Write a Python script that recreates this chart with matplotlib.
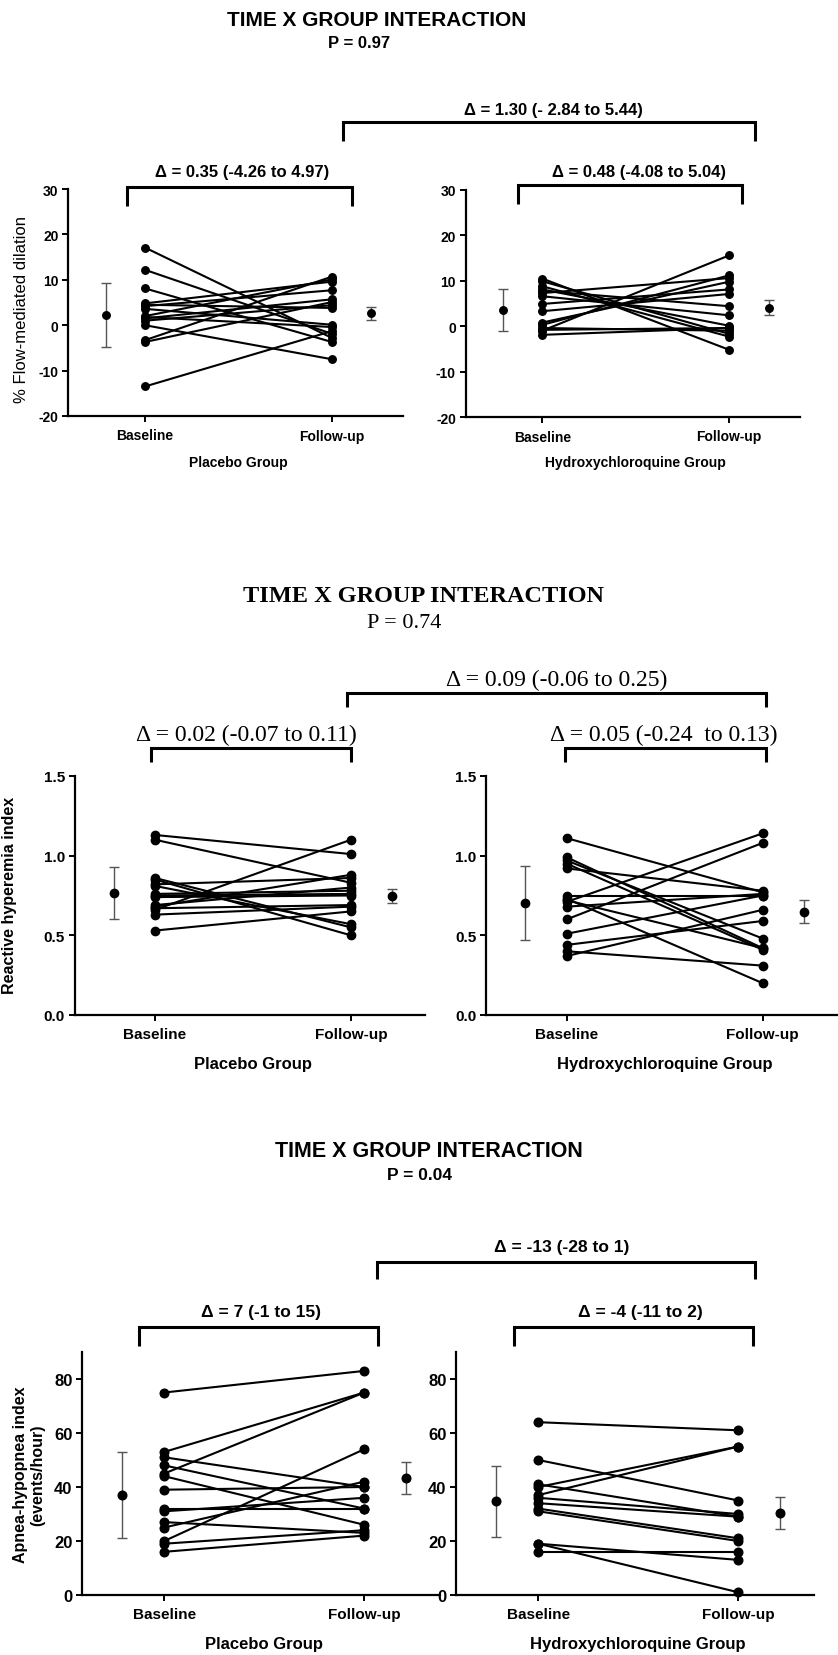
import matplotlib
matplotlib.use("Agg")
import matplotlib.pyplot as plt
from matplotlib.lines import Line2D
from matplotlib.transforms import blended_transform_factory

# ---------------- data ----------------
time_labels = ["Baseline", "Follow-up"]
group_labels = ["Placebo Group", "Hydroxychloroquine Group"]

# Flow-mediated dilation (%)
fmd_placebo_base = [17.1, 12.2, 8.1, 4.8, 4.2, 3.6, 2.0, 1.5, 1.0, 0.0, -3.3, -3.7, -13.5, 4.5, 1.8]
fmd_placebo_fu = [-2.8, -1.9, -3.7, 9.6, 7.7, 0.1, 10.1, 5.7, 4.4, -7.5, 10.7, 5.1, -1.3, 3.8, -0.4]
fmd_hcq_base = [10.5, 9.9, 8.8, 8.1, 7.8, 7.3, 6.6, 4.9, 3.3, 0.8, 0.3, -0.4, -0.8, -1.0, -1.9]
fmd_hcq_fu = [-5.2, -1.7, -2.3, 0.1, 4.4, 10.6, 2.4, 8.1, 7.1, 9.8, 11.2, -1.0, -0.4, 15.6, -0.4]
fmd_placebo_mean = [2.2, 2.7]
fmd_placebo_lo = [-4.8, 1.2]
fmd_placebo_hi = [9.4, 4.1]
fmd_hcq_mean = [3.6, 4.1]
fmd_hcq_lo = [-1.0, 2.5]
fmd_hcq_hi = [8.1, 5.7]

# Reactive hyperemia index
rhi_placebo_base = [1.13, 1.10, 0.86, 0.85, 0.82, 0.81, 0.76, 0.75, 0.69, 0.67, 0.66, 0.63, 0.53, 0.74, 0.68]
rhi_placebo_fu = [1.01, 0.83, 0.55, 0.50, 0.86, 0.57, 0.78, 0.76, 0.80, 0.69, 1.10, 0.68, 0.65, 0.75, 0.88]
rhi_hcq_base = [1.11, 0.99, 0.97, 0.95, 0.92, 0.75, 0.73, 0.71, 0.68, 0.60, 0.51, 0.44, 0.40, 0.37, 0.72]
rhi_hcq_fu = [0.77, 0.42, 0.48, 0.41, 0.78, 0.75, 0.20, 1.14, 0.76, 1.08, 0.75, 0.59, 0.31, 0.66, 0.42]
rhi_placebo_mean = [0.767, 0.746]
rhi_placebo_lo = [0.603, 0.704]
rhi_placebo_hi = [0.932, 0.792]
rhi_hcq_mean = [0.704, 0.649]
rhi_hcq_lo = [0.473, 0.576]
rhi_hcq_hi = [0.934, 0.721]

# Apnea-hypopnea index (events/hour)
ahi_placebo_base = [75, 53, 51, 48, 45, 44, 39, 32, 31, 27, 25, 20, 19, 16]
ahi_placebo_fu = [83, 75, 40, 32, 75, 26, 40, 32, 36, 23, 42, 54, 24, 22]
ahi_hcq_base = [64, 50, 41, 40, 37, 36, 34, 32, 31, 19, 19, 16]
ahi_hcq_fu = [61, 35, 29, 55, 55, 30, 29, 21, 20, 13, 1, 16]
ahi_placebo_mean = [37.0, 43.5]
ahi_placebo_lo = [21.1, 37.4]
ahi_placebo_hi = [52.8, 49.1]
ahi_hcq_mean = [34.7, 30.4]
ahi_hcq_lo = [21.4, 24.4]
ahi_hcq_hi = [47.7, 36.2]

titles = ["TIME X GROUP INTERACTION"] * 3
p_texts = ["P = 0.97", "P = 0.74", "P = 0.04"]
fmd_deltas = ["Δ = 1.30 (- 2.84 to 5.44)", "Δ = 0.35 (-4.26 to 4.97)", "Δ = 0.48 (-4.08 to 5.04)"]
rhi_deltas = ["Δ = 0.09 (-0.06 to 0.25)", "Δ = 0.02 (-0.07 to 0.11)", "Δ = 0.05 (-0.24  to 0.13)"]
ahi_deltas = ["Δ = -13 (-28 to 1)", "Δ = 7 (-1 to 15)", "Δ = -4 (-11 to 2)"]

# ---------------- layout ----------------
W, H = 838, 1656
fig = plt.figure(figsize=(W / 100, H / 100), dpi=100)
SANS = "Liberation Sans"
SERIF = "Liberation Serif"


def fx(x):
    return x / W


def fy(y):
    return 1 - y / H


def add_axes(left, width, top, bottom):
    return fig.add_axes([fx(left), fy(bottom), width / W, (bottom - top) / H])


def ftext(x, y, s, **kw):
    fig.text(fx(x), fy(y), s, ha="center", va="center", **kw)


def bracket(x0, x1, y, y_down, lw=2.2):
    fig.add_artist(Line2D([fx(x0), fx(x0), fx(x1), fx(x1)],
                          [fy(y_down), fy(y), fy(y), fy(y_down)],
                          transform=fig.transFigure, color="black", lw=lw,
                          solid_joinstyle="miter", solid_capstyle="butt"))


XPOS = [1, 2]
MEANPOS = [0.79, 2.21]
XLIM = (0.59, 2.38)


def panel(ax, base, fu, mean, lo, hi, ylim, yticks, yticklabels, group, group_y,
          ms, tick_fs, xtick_fs, group_fs):
    for b, f in zip(base, fu):
        ax.plot(XPOS, [b, f], color="black", lw=1.5, marker="o", ms=ms,
                markerfacecolor="black", markeredgecolor="black", clip_on=False, zorder=3)
    for i in range(2):
        ax.errorbar([MEANPOS[i]], [mean[i]],
                    yerr=[[mean[i] - lo[i]], [hi[i] - mean[i]]],
                    fmt="none", ecolor="#555555", elinewidth=1.0, capsize=3.6,
                    capthick=1.0, zorder=2, clip_on=False)
        ax.plot([MEANPOS[i]], [mean[i]], marker="o", ms=ms, color="black",
                zorder=3, clip_on=False)
    ax.set_xlim(*XLIM)
    ax.set_ylim(*ylim)
    ax.set_yticks(yticks)
    ax.set_yticklabels(yticklabels, fontfamily=SANS, fontweight="bold", fontsize=tick_fs)
    ax.set_xticks(XPOS)
    ax.set_xticklabels(time_labels, fontfamily=SANS, fontweight="bold", fontsize=xtick_fs)
    for s in ["top", "right"]:
        ax.spines[s].set_visible(False)
    for s in ["left", "bottom"]:
        ax.spines[s].set_linewidth(1.6)
    ax.tick_params(axis="both", direction="out", length=4, width=1.4, pad=3)
    ax.tick_params(axis="x", pad=5)
    ax.patch.set_alpha(0)
    tr = blended_transform_factory(ax.transData, fig.transFigure)
    ax.text(1.5, fy(group_y), group, transform=tr, ha="center", va="center",
            fontfamily=SANS, fontweight="bold", fontsize=group_fs)


# ---- Section 1: FMD ----
ax1 = add_axes(68.3, 334.7, 190, 417)
ax2 = add_axes(465.6, 334.7, 191, 418)
fmd_ticks = [-20, -10, 0, 10, 20, 30]
fmd_ticklabels = ["-20", "-10", "0", "10", "20", "30"]
panel(ax1, fmd_placebo_base, fmd_placebo_fu, fmd_placebo_mean, fmd_placebo_lo, fmd_placebo_hi,
      (-20, 30), fmd_ticks, fmd_ticklabels, group_labels[0], 463, 5.4, 10, 10, 10)
panel(ax2, fmd_hcq_base, fmd_hcq_fu, fmd_hcq_mean, fmd_hcq_lo, fmd_hcq_hi,
      (-20, 30), fmd_ticks, fmd_ticklabels, group_labels[1], 463, 5.4, 10, 10, 10)
fig.text(fx(22), fy(310), "% Flow-mediated dilation", rotation=90, ha="center", va="center",
         fontfamily=SANS, fontsize=12)

ftext(377, 20, titles[0], fontfamily=SANS, fontweight="bold", fontsize=15)
ftext(359, 43, p_texts[0], fontfamily=SANS, fontweight="bold", fontsize=12)
bracket(343, 755, 123, 142)
ftext(553, 110, fmd_deltas[0], fontfamily=SANS, fontweight="bold", fontsize=12)
bracket(127, 352, 188, 207)
ftext(242, 173, fmd_deltas[1], fontfamily=SANS, fontweight="bold", fontsize=12)
bracket(518, 742, 186, 205)
ftext(639, 173, fmd_deltas[2], fontfamily=SANS, fontweight="bold", fontsize=12)

# ---- Section 2: RHI ----
ax3 = add_axes(74.6, 350.8, 777, 1016)
ax4 = add_axes(486.3, 350.8, 777, 1016)
rhi_ticks = [0.0, 0.5, 1.0, 1.5]
rhi_ticklabels = ["0.0", "0.5", "1.0", "1.5"]
panel(ax3, rhi_placebo_base, rhi_placebo_fu, rhi_placebo_mean, rhi_placebo_lo, rhi_placebo_hi,
      (0, 1.5), rhi_ticks, rhi_ticklabels, group_labels[0], 1065, 6.0, 11, 11, 12)
panel(ax4, rhi_hcq_base, rhi_hcq_fu, rhi_hcq_mean, rhi_hcq_lo, rhi_hcq_hi,
      (0, 1.5), rhi_ticks, rhi_ticklabels, group_labels[1], 1065, 6.0, 11, 11, 12)
fig.text(fx(10), fy(895), "Reactive hyperemia index", rotation=90, ha="center", va="center",
         fontfamily=SANS, fontweight="bold", fontsize=11.5)

ftext(423, 597, titles[1], fontfamily=SERIF, fontweight="bold", fontsize=17.5)
ftext(404, 623, p_texts[1], fontfamily=SERIF, fontsize=16)
bracket(347, 766, 694, 708)
ftext(557, 680, rhi_deltas[0], fontfamily=SERIF, fontsize=17)
bracket(151, 351, 749, 763)
ftext(246, 735, rhi_deltas[1], fontfamily=SERIF, fontsize=17)
bracket(565, 766, 749, 763)
ftext(664, 735, rhi_deltas[2], fontfamily=SERIF, fontsize=17)

# ---- Section 3: AHI ----
ax5 = add_axes(82.3, 358, 1353, 1596)
ax6 = add_axes(456.3, 358, 1353, 1596)
ahi_ticks = [0, 20, 40, 60, 80]
ahi_ticklabels = ["0", "20", "40", "60", "80"]
panel(ax5, ahi_placebo_base, ahi_placebo_fu, ahi_placebo_mean, ahi_placebo_lo, ahi_placebo_hi,
      (0, 90), ahi_ticks, ahi_ticklabels, group_labels[0], 1645, 6.2, 12, 11, 12)
panel(ax6, ahi_hcq_base, ahi_hcq_fu, ahi_hcq_mean, ahi_hcq_lo, ahi_hcq_hi,
      (0, 90), ahi_ticks, ahi_ticklabels, group_labels[1], 1645, 6.2, 12, 11, 12)
fig.text(fx(29), fy(1475), "Apnea-hypopnea index\n(events/hour)", rotation=90, ha="center",
         va="center", multialignment="center", fontfamily=SANS, fontweight="bold",
         fontsize=11.5, linespacing=1.15)

ftext(429, 1152, titles[2], fontfamily=SANS, fontweight="bold", fontsize=15.5)
ftext(419, 1176, p_texts[2], fontfamily=SANS, fontweight="bold", fontsize=12.5)
bracket(377, 755, 1263, 1280)
ftext(562, 1248, ahi_deltas[0], fontfamily=SANS, fontweight="bold", fontsize=12.5)
bracket(139, 378, 1328, 1347)
ftext(261, 1313, ahi_deltas[1], fontfamily=SANS, fontweight="bold", fontsize=12.5)
bracket(514, 753, 1328, 1347)
ftext(640, 1313, ahi_deltas[2], fontfamily=SANS, fontweight="bold", fontsize=12.5)

fig.savefig("out.png", dpi=100, facecolor="white")
